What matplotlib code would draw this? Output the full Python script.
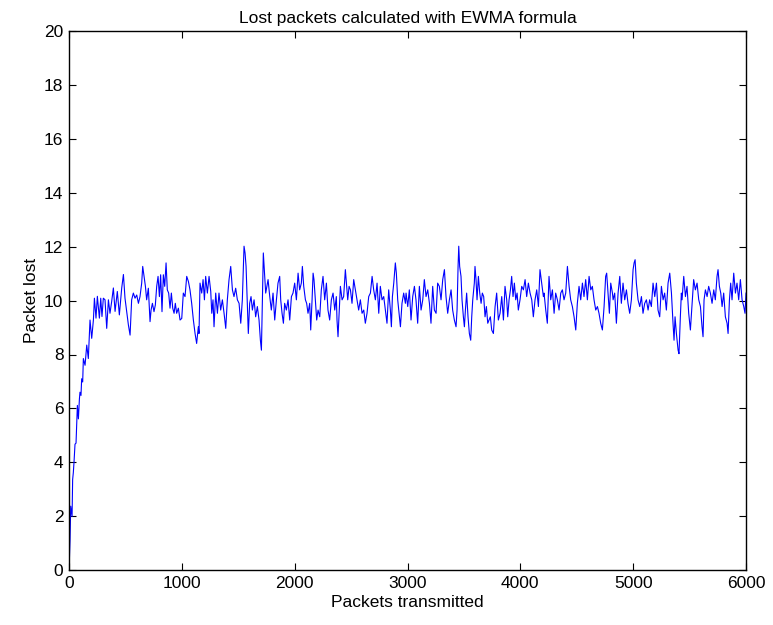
import matplotlib
matplotlib.use("Agg")
import matplotlib.pyplot as plt

# values (packet index, EWMA lost packets)
packets = [
    0, 9, 15, 21, 27, 32, 38, 44, 53, 62, 68, 74, 83, 92, 97, 106, 112, 121, 127, 142,
    157, 171, 186, 201, 216, 225, 239, 251, 269, 281, 292, 304, 319, 334, 349, 363, 378, 393, 408, 428,
    446, 467, 482, 496, 511, 526, 541, 555, 570, 585, 600, 615, 629, 644, 653, 665, 677, 688,
    703, 718, 727, 739, 753, 765, 777, 789, 801, 812, 824, 836, 848, 860, 871, 883, 895, 907,
    919, 931, 942, 954, 969, 984, 999, 1013, 1028, 1043, 1058, 1072, 1087, 1102, 1117, 1131, 1146,
    1152, 1161, 1176, 1188, 1200, 1211, 1226, 1241, 1256, 1265, 1276, 1285, 1300, 1315, 1329, 1344,
    1359, 1374, 1389, 1403, 1418, 1433, 1448, 1462, 1477, 1492, 1507, 1522, 1536, 1551, 1560, 1569,
    1578, 1589, 1601, 1613, 1625, 1640, 1654, 1669, 1684, 1696, 1705, 1714, 1722, 1731, 1743, 1758,
    1764, 1779, 1793, 1808, 1823, 1838, 1852, 1867, 1876, 1888, 1900, 1911, 1926, 1941, 1956, 1971,
    1985, 2000, 2015, 2030, 2044, 2059, 2068, 2080, 2095, 2106, 2118, 2133, 2142, 2154, 2163, 2171,
    2183, 2195, 2207, 2222, 2236, 2251, 2266, 2281, 2295, 2310, 2325, 2340, 2355, 2369,
    2375, 2384, 2396, 2405, 2420, 2434, 2449, 2458, 2470, 2482, 2494, 2508, 2523, 2538, 2553, 2567,
    2582, 2597, 2612, 2626, 2641, 2656, 2671, 2686, 2700, 2715, 2730, 2745, 2759, 2774, 2789, 2804,
    2818, 2833, 2848, 2857, 2866, 2878, 2892, 2901, 2913, 2925, 2937, 2951, 2966, 2981,
    2987, 3002, 3016, 3031, 3046, 3061, 3075, 3090, 3105, 3120, 3135, 3149, 3164, 3179, 3194, 3208,
    3223, 3238, 3253, 3267, 3282, 3297, 3312, 3327, 3341, 3356, 3371, 3386, 3400, 3415, 3430, 3439,
    3448, 3454, 3462, 3474, 3483, 3495, 3504, 3513, 3524, 3536, 3548, 3560, 3569, 3578, 3592,
    3598, 3607, 3616, 3628, 3640, 3652, 3663, 3675, 3687, 3699, 3711, 3723, 3734, 3746, 3761, 3776,
    3790, 3805, 3820, 3835, 3850, 3864, 3879, 3888, 3900, 3912, 3923, 3935, 3947, 3959, 3971, 3982,
    3997, 4012, 4027, 4042, 4056, 4071, 4086, 4101, 4115, 4130, 4145, 4160, 4174, 4189, 4204,
    4210, 4225, 4239, 4254, 4269, 4284, 4299, 4313, 4328, 4343, 4358, 4372, 4387, 4402, 4417, 4432,
    4446, 4461, 4476, 4491, 4505, 4520, 4535, 4550, 4564, 4579, 4594, 4609, 4624, 4638, 4653, 4668,
    4683, 4697, 4712, 4727, 4742, 4756, 4765, 4777, 4789, 4801, 4816,
    4822, 4836, 4851, 4866, 4881, 4895, 4910, 4925, 4940, 4954, 4969, 4984, 4999, 5008, 5017, 5028,
    5043, 5058, 5073, 5087, 5102, 5117, 5132, 5146, 5161, 5176, 5191, 5206, 5220, 5235, 5250, 5265,
    5279, 5294, 5309, 5324, 5339, 5353, 5362, 5371, 5383, 5398, 5406, 5418, 5427,
    5433, 5448, 5463, 5477, 5492, 5507, 5522, 5536, 5551, 5566, 5581, 5596, 5610, 5619, 5628, 5640,
    5655, 5669, 5684, 5699, 5714, 5728, 5743, 5752, 5764, 5776, 5788, 5802, 5817, 5832, 5841, 5853,
    5864, 5876, 5891, 5906, 5920, 5935, 5950, 5965, 5980, 5991, 6000,
]

lost = [
    0.00, 1.12, 2.37, 2.18, 1.99, 3.36, 3.61, 3.99, 4.67, 4.71, 5.36, 6.11, 5.61, 6.35, 6.60, 6.48, 7.10, 6.98, 7.85, 7.60,
    8.35, 7.85, 9.28, 8.60, 9.28, 10.09, 9.35, 10.16, 9.35, 10.09, 9.41, 10.09, 10.03, 8.97, 10.03, 9.53, 9.97, 10.47, 9.60, 10.34,
    9.47, 10.47, 10.97, 10.09, 9.60, 9.10, 8.72, 10.03, 10.28, 10.09, 10.21, 9.90, 10.15, 10.65, 11.27, 10.90, 10.53, 10.03,
    10.46, 9.22, 9.65, 9.90, 9.59, 9.84, 10.53, 10.90, 10.15, 10.96, 9.59, 10.96, 10.53, 11.40, 10.40, 10.28, 9.72, 10.28,
    9.72, 9.53, 9.90, 9.53, 9.72, 9.28, 9.34, 10.28, 10.15, 10.90, 10.71, 10.40, 9.90, 9.28, 8.78, 8.41, 9.03,
    8.78, 10.65, 10.28, 10.78, 10.03, 10.90, 10.28, 10.90, 10.34, 9.53, 10.03, 9.03, 10.28, 9.53, 10.28, 9.65,
    10.03, 9.53, 8.97, 10.03, 10.78, 11.27, 10.40, 10.15, 10.46, 10.03, 9.90, 9.16, 10.03, 12.02, 11.77, 11.27,
    10.15, 8.78, 9.90, 10.15, 9.65, 10.03, 9.40, 9.78, 9.28, 8.53, 8.16, 10.03, 11.77, 11.15, 10.28, 10.65,
    10.78, 10.15, 9.65, 10.28, 9.28, 10.03, 10.65, 10.90, 10.03, 9.53, 9.16, 9.90, 9.65, 10.03, 9.28, 10.15,
    10.28, 10.65, 10.03, 11.02, 10.40, 10.65, 11.27, 10.53, 10.03, 9.90, 9.53, 9.90, 8.91, 10.03, 11.02, 10.78,
    10.03, 9.28, 9.65, 9.40, 10.40, 10.90, 10.03, 10.65, 9.65, 9.28, 10.03, 10.28, 9.65, 10.15,
    9.28, 8.66, 9.78, 10.53, 10.03, 10.15, 11.15, 10.65, 10.03, 10.53, 10.40, 9.90, 10.78, 10.40, 10.03, 9.65,
    10.03, 9.53, 9.65, 9.16, 9.53, 10.15, 10.28, 10.90, 10.40, 10.03, 10.65, 9.53, 10.53, 10.03, 10.15, 9.65,
    9.16, 10.40, 9.65, 9.03, 10.15, 10.65, 11.40, 11.02, 10.03, 9.53, 9.03, 9.90, 10.28, 9.90,
    10.28, 9.78, 10.40, 9.28, 10.15, 10.53, 10.03, 9.16, 10.53, 9.65, 10.03, 10.78, 10.15, 10.40, 9.90, 9.16,
    10.53, 9.65, 9.53, 10.65, 10.53, 10.03, 10.78, 11.15, 10.15, 9.53, 10.03, 10.40, 9.65, 9.28, 9.03, 9.65,
    11.27, 12.02, 11.27, 10.90, 10.03, 9.40, 9.03, 9.65, 10.28, 9.40, 8.78, 8.53, 9.40, 10.03, 10.65,
    11.27, 10.78, 10.03, 10.90, 10.28, 9.90, 10.28, 10.15, 9.40, 9.78, 9.16, 9.28, 9.40, 8.91, 8.78, 9.78,
    10.28, 9.28, 9.53, 10.15, 9.28, 10.53, 10.03, 9.40, 10.03, 10.40, 10.90, 10.15, 10.65, 10.03, 10.28, 9.65,
    10.03, 10.53, 10.40, 10.78, 10.15, 10.65, 10.28, 10.03, 9.40, 10.03, 10.40, 9.78, 11.15, 10.65, 10.15,
    10.28, 9.65, 9.16, 10.90, 10.03, 10.40, 9.53, 10.28, 10.03, 9.65, 10.28, 10.40, 10.03, 10.28, 11.27, 10.53,
    10.03, 9.78, 9.40, 8.91, 9.90, 10.53, 10.03, 10.65, 10.15, 10.78, 10.03, 10.90, 10.40, 10.53, 10.03, 9.65,
    9.78, 9.53, 9.16, 8.91, 9.78, 10.90, 11.02, 10.28, 9.53, 10.65, 10.28,
    10.03, 10.28, 9.16, 10.28, 10.90, 9.90, 10.65, 10.03, 10.40, 9.90, 9.53, 10.03, 11.15, 11.40, 11.52, 10.65,
    10.03, 9.78, 10.15, 9.53, 9.90, 10.03, 9.65, 10.03, 9.78, 10.65, 10.15, 10.65, 9.65, 9.40, 10.53, 10.03,
    10.28, 9.65, 10.65, 11.02, 10.28, 9.16, 8.53, 9.40, 8.78, 8.16, 8.03, 9.40, 10.28,
    10.03, 10.90, 10.15, 10.53, 9.53, 8.91, 9.90, 10.78, 10.40, 10.65, 10.03, 9.78, 9.03, 8.66, 10.03, 10.40,
    10.15, 10.53, 10.28, 9.90, 10.40, 10.03, 10.90, 11.15, 10.53, 10.28, 9.78, 10.28, 9.40, 9.16, 8.78, 10.03,
    10.65, 10.03, 11.02, 10.28, 10.65, 10.03, 10.78, 10.03, 9.78, 9.53, 10.28,
]

plt.rcParams["font.family"] = ["Liberation Sans", "DejaVu Sans"]

fig = plt.figure(figsize=(7.73, 6.25), dpi=100)
ax = fig.add_axes([0.0893, 0.088, 0.8758, 0.862])

ax.plot(packets, lost, color="#0000ff", linewidth=0.8)

ax.set_xlim(0, 6000)
ax.set_ylim(0, 20)
ax.set_xticks(range(0, 6001, 1000))
ax.set_yticks(range(0, 21, 2))
ax.tick_params(direction="in", top=True, right=True, labelsize=12.5, length=5, pad=4)
for s in ax.spines.values():
    s.set_linewidth(1.0)

ax.set_title("Lost packets calculated with EWMA formula", fontsize=12.5, pad=6)
ax.set_xlabel("Packets transmitted", fontsize=12.5, labelpad=3)
ax.set_ylabel("Packet lost", fontsize=12.5, labelpad=4)

fig.savefig("out.png", dpi=100)
